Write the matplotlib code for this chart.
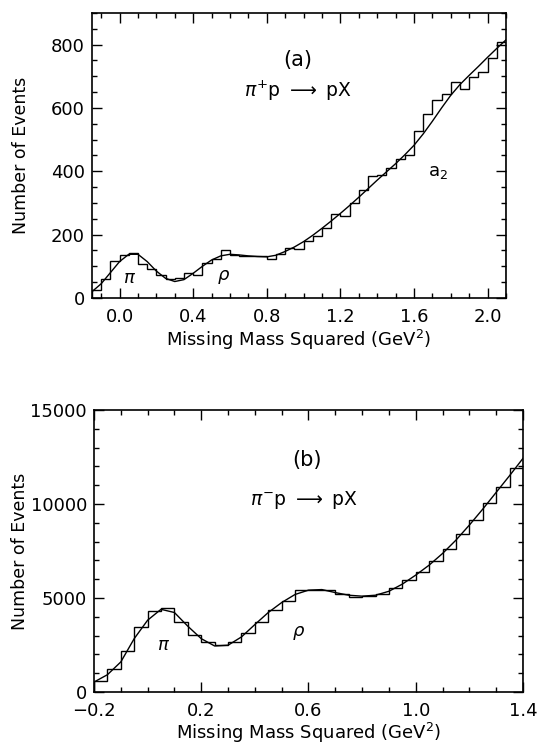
import matplotlib
matplotlib.use('Agg')
import matplotlib.pyplot as plt
import numpy as np

# ---- panel (a): pi+ p -> p X ----
a_bin_start = -0.15
a_bin_width = 0.05
a_counts = [25, 60, 118, 136, 143, 108, 90, 72, 60, 63,
            80, 73, 112, 123, 153, 136, 132, 132, 133, 123,
            140, 158, 155, 180, 195, 220, 266, 258, 300, 340,
            385, 388, 410, 440, 450, 526, 582, 624, 645, 682,
            661, 698, 714, 759, 808]
a_fit = [20, 45, 80, 115, 138, 138, 115, 85, 62, 52,
         58, 78, 100, 120, 133, 138, 136, 133, 131, 130,
         135, 147, 161, 178, 198, 220, 243, 267, 292, 318,
         345, 372, 398, 424, 452, 482, 518, 558, 600, 640,
         674, 703, 731, 760, 788, 815]

# ---- panel (b): pi- p -> p X ----
b_bin_start = -0.2
b_bin_width = 0.05
b_counts = [600, 1200, 2180, 3460, 4300, 4490, 3730, 3020, 2660, 2520,
            2660, 3150, 3750, 4380, 4850, 5450, 5450, 5420, 5240, 5080,
            5100, 5240, 5540, 5980, 6400, 6950, 7620, 8380, 9150, 10050,
            10900, 11900]
b_fit = [530, 920, 1600, 2840, 3820, 4400, 4230, 3500, 2840, 2450,
         2490, 2930, 3590, 4230, 4760, 5190, 5420, 5450, 5290, 5150,
         5100, 5150, 5360, 5740, 6220, 6750, 7370, 8080, 8880, 9730,
         10620, 11510, 12430]

plt.rcParams['font.family'] = ['DejaVu Sans']
plt.rcParams['mathtext.fontset'] = 'dejavusans'
TICK_FS = 13
LABEL_FS = 13


def style_axes(ax, xmajor, xminor, ymajor, yminor, xlab_y, ylab_x):
    ax.set_xticks(xmajor)
    ax.set_xticks(xminor, minor=True)
    ax.set_yticks(ymajor)
    ax.set_yticks(yminor, minor=True)
    ax.tick_params(which='both', direction='in', top=True, right=True,
                   width=1.0, labelsize=TICK_FS)
    ax.tick_params(which='major', length=7)
    ax.tick_params(which='minor', length=3.5)
    ax.tick_params(axis='x', which='major', pad=7)
    ax.tick_params(axis='y', which='major', pad=5)
    for s in ax.spines.values():
        s.set_linewidth(1.2)
    ax.set_xlabel('Missing Mass Squared (GeV$^{2}$)', fontsize=LABEL_FS)
    ax.set_ylabel('Number of Events', fontsize=12.5)
    ax.xaxis.set_label_coords(0.5, xlab_y)
    ax.xaxis.label.set_va('center')
    ax.yaxis.set_label_coords(ylab_x, 0.5)
    ax.yaxis.label.set_va('center')


def main():
    fig = plt.figure(figsize=(5.42, 7.45), dpi=100)

    # panel (a)
    ax1 = fig.add_axes([0.1697, 0.600, 0.7638, 0.3826])
    edges = a_bin_start + a_bin_width * np.arange(len(a_counts) + 1)
    ax1.stairs(a_counts, edges, color='black', linewidth=1.0)
    xf = a_bin_start + a_bin_width * np.arange(len(a_fit))
    ax1.plot(xf, a_fit, color='black', linewidth=1.0)
    ax1.set_xlim(-0.15, 2.1)
    ax1.set_ylim(0, 900)
    style_axes(ax1, np.arange(0, 2.01, 0.4), np.arange(-0.1, 2.11, 0.1),
               np.arange(0, 801, 200), np.arange(0, 901, 50),
               -0.147, -0.171)
    ax1.set_xticklabels(['0.0', '0.4', '0.8', '1.2', '1.6', '2.0'])
    ax1.text(0.97, 750, '(a)', fontsize=15, ha='center', va='center')
    ax1.text(0.97, 655, r'$\pi^{+}\mathrm{p}\ \longrightarrow\ \mathrm{pX}$',
             fontsize=13.5, ha='center', va='center')
    ax1.text(0.053, 62, r'$\pi$', fontsize=13, ha='center', va='center')
    ax1.text(0.564, 65, r'$\rho$', fontsize=13, ha='center', va='center')
    ax1.text(1.73, 397, r'a$_{2}$', fontsize=13, ha='center', va='center')

    # panel (b)
    ax2 = fig.add_axes([0.1734, 0.0711, 0.7915, 0.3785])
    edges = b_bin_start + b_bin_width * np.arange(len(b_counts) + 1)
    ax2.stairs(b_counts, edges, color='black', linewidth=1.0)
    xf = b_bin_start + b_bin_width * np.arange(len(b_fit))
    ax2.plot(xf, b_fit, color='black', linewidth=1.0)
    ax2.set_xlim(-0.2, 1.4)
    ax2.set_ylim(0, 15000)
    style_axes(ax2, np.arange(-0.2, 1.41, 0.4), np.arange(-0.2, 1.41, 0.1),
               np.arange(0, 15001, 5000), np.arange(0, 15001, 1000),
               -0.145, -0.172)
    ax2.set_xticklabels(['\u22120.2', '0.2', '0.6', '1.0', '1.4'])
    ax2.text(0.593, 12340, '(b)', fontsize=15, ha='center', va='center')
    ax2.text(0.583, 10210, r'$\pi^{-}\mathrm{p}\ \longrightarrow\ \mathrm{pX}$',
             fontsize=13.5, ha='center', va='center')
    ax2.text(0.058, 2490, r'$\pi$', fontsize=13, ha='center', va='center')
    ax2.text(0.562, 3125, r'$\rho$', fontsize=13, ha='center', va='center')

    fig.savefig('out.png', dpi=100)


if __name__ == "__main__":
    main()
